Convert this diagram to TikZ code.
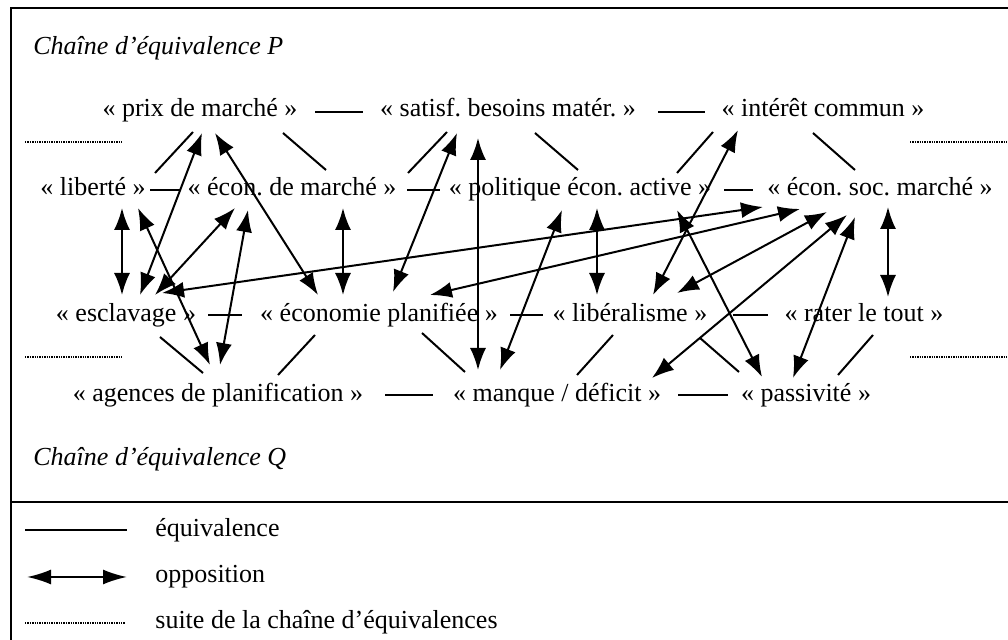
\documentclass[tikz,border=0pt]{standalone}
\usepackage{fontspec}
\setmainfont{Liberation Serif}
\usetikzlibrary{arrows.meta}
\frenchspacing
\begin{document}
\begin{tikzpicture}[x=0.5pt,y=-0.5pt,
  lbl/.style={inner sep=0pt, anchor=base, font=\fontsize{13}{15}\selectfont},
  ttl/.style={inner sep=0pt, anchor=base west, font=\fontsize{13}{15}\selectfont\itshape},
  leg/.style={inner sep=0pt, anchor=base west, font=\fontsize{13}{15}\selectfont},
  eqv/.style={line width=1pt},
  opp/.style={line width=1pt, {Latex[length=11pt,width=8pt]}-{Latex[length=11pt,width=8pt]}},
  cont/.style={line width=0.9pt, dash pattern=on 0.7pt off 0.5pt},
  frame/.style={line width=1.3pt}
]
\useasboundingbox (0,0) rectangle (1008,640);
% frame
\draw[frame] (11,660) -- (11,8) -- (1030,8);
\draw[frame] (11,502) -- (1030,502);
% titles
\node[ttl] (titleP) at (33,55) {Chaîne d’équivalence P};
\node[ttl] (titleQ) at (33,466) {Chaîne d’équivalence Q};
% nodes
\node[lbl] (prix) at (200,117) {« prix de marché »};
\node[lbl] (satisf) at (508,117) {« satisf. besoins matér. »};
\node[lbl] (interet) at (823,117) {« intérêt commun »};
\node[lbl] (liberte) at (93,196) {« liberté »};
\node[lbl] (ecm) at (292,196) {« écon. de marché »};
\node[lbl] (pol) at (580,196) {« politique écon. active »};
\node[lbl] (ecs) at (880,196) {« écon. soc. marché »};
\node[lbl] (escl) at (126,322) {« esclavage »};
\node[lbl] (plan) at (379,322) {« économie planifiée »};
\node[lbl] (lib) at (630,322) {« libéralisme »};
\node[lbl] (rater) at (864,322) {« rater le tout »};
\node[lbl] (agences) at (218,402) {« agences de planification »};
\node[lbl] (manque) at (557,402) {« manque / déficit »};
\node[lbl] (passiv) at (806,402) {« passivité »};
% continuation dotted lines
\draw[cont] (25,142) -- (122,142);
\draw[cont] (910,142) -- (1010,142);
\draw[cont] (25,357) -- (122,357);
\draw[cont] (910,357) -- (1010,357);
% horizontal equivalences
\draw[eqv] ([shift={(115,-5)}]prix.base) -- ([shift={(-145,-5)}]satisf.base);
\draw[eqv] ([shift={(150,-5)}]satisf.base) -- ([shift={(-118,-5)}]interet.base);
\draw[eqv] ([shift={(57,-6)}]liberte.base) -- ([shift={(-112,-6)}]ecm.base);
\draw[eqv] ([shift={(115,-6)}]ecm.base) -- ([shift={(-140,-6)}]pol.base);
\draw[eqv] ([shift={(144,-6)}]pol.base) -- ([shift={(-127,-6)}]ecs.base);
\draw[eqv] ([shift={(82,-7)}]escl.base) -- ([shift={(-137,-7)}]plan.base);
\draw[eqv] ([shift={(131,-7)}]plan.base) -- ([shift={(-87,-7)}]lib.base);
\draw[eqv] ([shift={(103,-7)}]lib.base) -- ([shift={(-96,-7)}]rater.base);
\draw[eqv] ([shift={(167,-7)}]agences.base) -- ([shift={(-124,-7)}]manque.base);
\draw[eqv] ([shift={(121,-7)}]manque.base) -- ([shift={(-78,-7)}]passiv.base);
% diagonal equivalences, rows 1-2
\draw[eqv] ([shift={(-7,15)}]prix.base) -- ([shift={(62,-23)}]liberte.base);
\draw[eqv] ([shift={(83,16)}]prix.base) -- ([shift={(34,-26)}]ecm.base);
\draw[eqv] ([shift={(-61,15)}]satisf.base) -- ([shift={(116,-23)}]ecm.base);
\draw[eqv] ([shift={(27,16)}]satisf.base) -- ([shift={(-2,-26)}]pol.base);
\draw[eqv] ([shift={(-110,15)}]interet.base) -- ([shift={(97,-23)}]pol.base);
\draw[eqv] ([shift={(-10,16)}]interet.base) -- ([shift={(-25,-26)}]ecs.base);
% diagonal equivalences, rows 3-4
\draw[eqv] ([shift={(34,15)}]escl.base) -- ([shift={(-15,-29)}]agences.base);
\draw[eqv] ([shift={(-64,13)}]plan.base) -- ([shift={(60,-27)}]agences.base);
\draw[eqv] ([shift={(43,11)}]plan.base) -- ([shift={(-92,-30)}]manque.base);
\draw[eqv] ([shift={(-17,13)}]lib.base) -- ([shift={(20,-27)}]manque.base);
\draw[eqv] ([shift={(70,16)}]lib.base) -- ([shift={(-67,-30)}]passiv.base);
\draw[eqv] ([shift={(9,13)}]rater.base) -- ([shift={(32,-27)}]passiv.base);
% oppositions
\draw[opp] ([shift={(29,12)}]liberte.base) -- ([shift={(-4,-27)}]escl.base);
\draw[opp] ([shift={(45,12)}]liberte.base) -- ([shift={(-8,-37)}]agences.base);
\draw[opp] ([shift={(2,16)}]prix.base) -- ([shift={(14,-27)}]escl.base);
\draw[opp] ([shift={(15,16)}]prix.base) -- ([shift={(-61,-27)}]plan.base);
\draw[opp] ([shift={(-57,12)}]ecm.base) -- ([shift={(29,-27)}]escl.base);
\draw[opp] ([shift={(-44,14)}]ecm.base) -- ([shift={(2,-37)}]agences.base);
\draw[opp] ([shift={(51,12)}]ecm.base) -- ([shift={(-36,-27)}]plan.base);
\draw[opp] ([shift={(36,-29)}]escl.base) -- ([shift={(-117,11)}]ecs.base);
\draw[opp] ([shift={(51,-27)}]plan.base) -- ([shift={(-80,13)}]ecs.base);
\draw[opp] ([shift={(-51,16)}]satisf.base) -- ([shift={(14,-30)}]plan.base);
\draw[opp] ([shift={(-30,21)}]satisf.base) -- ([shift={(-79,-32)}]manque.base);
\draw[opp] ([shift={(-18,14)}]pol.base) -- ([shift={(-57,-32)}]manque.base);
\draw[opp] ([shift={(17,12)}]pol.base) -- ([shift={(-33,-27)}]lib.base);
\draw[opp] ([shift={(-85,13)}]interet.base) -- ([shift={(23,-27)}]lib.base);
\draw[opp] ([shift={(97,14)}]pol.base) -- ([shift={(-44,-25)}]passiv.base);
\draw[opp] ([shift={(47,-29)}]lib.base) -- ([shift={(-53,16)}]ecs.base);
\draw[opp] ([shift={(95,-24)}]manque.base) -- ([shift={(-33,19)}]ecs.base);
\draw[opp] ([shift={(-13,-24)}]passiv.base) -- ([shift={(-25,21)}]ecs.base);
\draw[opp] ([shift={(8,11)}]ecs.base) -- ([shift={(24,-25)}]rater.base);
% legend
\coordinate (l1a) at (25,530); \coordinate (l1b) at (127,530);
\coordinate (l2a) at (27,577); \coordinate (l2b) at (127,577);
\coordinate (l3a) at (25,623); \coordinate (l3b) at (125,623);
\draw[eqv] (l1a) -- (l1b);
\draw[line width=1pt, {Latex[length=12pt,width=7.5pt]}-{Latex[length=12pt,width=7.5pt]}] (l2a) -- (l2b);
\draw[cont] (l3a) -- (l3b);
\node[leg] (t1) at (155,537) {équivalence};
\node[leg] (t2) at (155,583) {opposition};
\node[leg] (t3) at (155,629) {suite de la chaîne d’équivalences};
\end{tikzpicture}
\end{document}
